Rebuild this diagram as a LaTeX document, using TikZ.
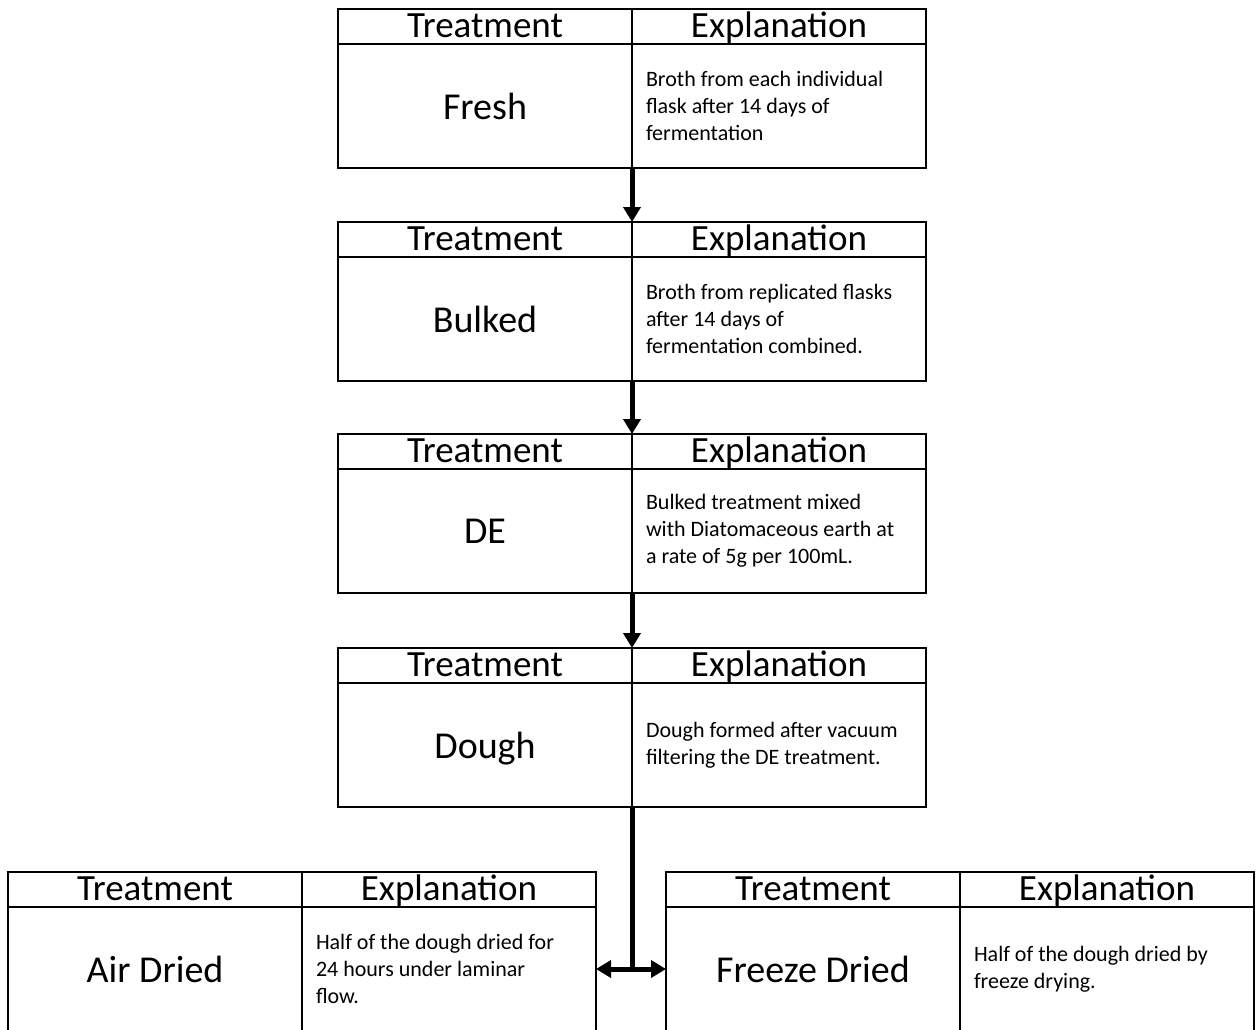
\documentclass[tikz,border=0pt]{standalone}
\usepackage{fontspec}
\setmainfont{Carlito}
\usetikzlibrary{arrows.meta,positioning}

\tikzset{
  cell/.style={draw,line width=1.6pt,minimum width=294pt,inner sep=0pt,outer sep=0pt},
  headcell/.style={cell,minimum height=35pt,text height=28pt,text depth=6pt,
    font=\fontsize{37}{44}\selectfont},
  namecell/.style={cell,minimum height=124pt,text depth=0pt,font=\fontsize{38}{45}\selectfont},
  notecell/.style={cell,minimum height=124pt,align=flush left,text width=266pt,inner xsep=14pt,
    font=\fontsize{22}{27}\selectfont},
  flow/.style={line width=5pt,-{Triangle[length=15pt,width=17pt]}}
}

\begin{document}
\begin{tikzpicture}[x=1pt,y=-1pt]
        \useasboundingbox (0,0) rectangle (1257,1029);
        % one table per treatment: header row, then name and explanation
        \foreach \id/\px/\py/\lbl/\note in {
            fresh/338/9/Fresh/{Broth from each individual\\flask after 14 days of\\fermentation},
            bulked/338/222/Bulked/{Broth from replicated flasks\\after 14 days of\\fermentation combined.},
            de/338/434/DE/{Bulked treatment mixed\\with Diatomaceous earth at\\a rate of 5g per 100mL.},
            dough/338/648/Dough/{Dough formed after vacuum\\filtering the DE treatment.},
            air/8/872/Air Dried/{Half of the dough dried for\\24 hours under laminar\\flow.},
            frz/666/872/Freeze Dried/{Half of the dough dried by\\freeze drying.}}{
          \node[headcell,anchor=north west] (\id-th) at (\px,\py) {Treatment};
          \node[headcell,right=0pt of \id-th] (\id-eh) {Explanation};
          \node[namecell,below=0pt of \id-th] (\id-tb) {\lbl};
          \node[notecell,below=0pt of \id-eh] (\id-eb) {\note};
        }
        \draw[flow] (fresh-eb.south west) -- (bulked-eh.north west);
        \draw[flow] (bulked-eb.south west) -- (de-eh.north west);
        \draw[flow] (de-eb.south west) -- (dough-eh.north west);
        % split to the two drying treatments
        \coordinate (split) at (dough-eb.south west |- air-eb.east);
        \draw[line width=5pt] (dough-eb.south west) -- (split);
        \draw[flow] (split) -- (air-eb.east);
        \draw[flow] (split) -- (frz-tb.west);
      \end{tikzpicture}
\end{document}
